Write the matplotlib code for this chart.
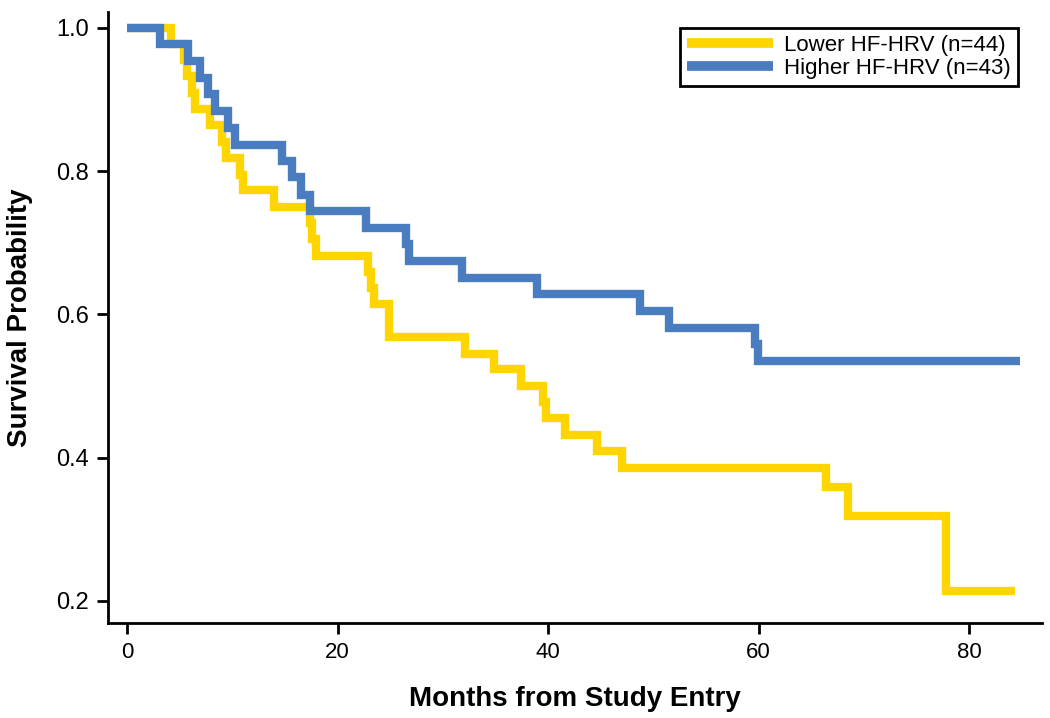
import matplotlib
matplotlib.use("Agg")
import matplotlib.pyplot as plt

#Kaplan-Meier curves
#Lower HF-HRV group (n=44)
lower_t = [0, 4.2, 5.4, 5.7, 6.2, 6.5, 7.9, 9.0, 9.4, 10.7, 11.0, 14.0,
           17.4, 17.6, 18.0, 22.9, 23.2, 23.5, 24.9, 32.1, 34.9, 37.4,
           39.5, 39.8, 41.6, 44.6, 47.0, 66.4, 68.5, 77.8, 84.3]
lower_s = [1.0, 0.977, 0.955, 0.932, 0.909, 0.886, 0.864, 0.841, 0.818, 0.795, 0.773, 0.750,
           0.727, 0.705, 0.682, 0.659, 0.636, 0.614, 0.568, 0.545, 0.523, 0.500,
           0.477, 0.455, 0.432, 0.409, 0.386, 0.359, 0.319, 0.213, 0.213]

#Higher HF-HRV group (n=43)
higher_t = [0, 3.1, 5.8, 6.9, 7.7, 8.4, 9.6, 10.3, 14.7, 15.7, 16.5, 17.4,
            22.7, 26.5, 26.8, 31.8, 38.9, 48.7, 51.5, 59.6, 59.9, 84.8]
higher_s = [1.0, 0.977, 0.953, 0.930, 0.907, 0.884, 0.860, 0.837, 0.814, 0.791, 0.767, 0.744,
            0.721, 0.698, 0.674, 0.651, 0.628, 0.605, 0.581, 0.558, 0.535, 0.535]

labels = ["Lower HF-HRV (n=44)", "Higher HF-HRV (n=43)"]
xticks = [0, 20, 40, 60, 80]
yticks = [0.2, 0.4, 0.6, 0.8, 1.0]

plt.rcParams['font.family'] = ['Liberation Sans', 'DejaVu Sans']

fig = plt.figure(figsize=(10.5, 7.18), dpi=100)
ax = fig.add_axes([108/1050, 1-623/718, 934/1050, 611/718])

ax.step(lower_t, lower_s, where='post', color='#FFD500', lw=6,
        solid_capstyle='butt', solid_joinstyle='miter', label=labels[0])
ax.step(higher_t, higher_s, where='post', color='#4A7CC0', lw=6,
        solid_capstyle='butt', solid_joinstyle='miter', label=labels[1])

ax.set_xlim(-1.8, 86.9)
ax.set_ylim(0.169, 1.022)
ax.set_xticks(xticks)
ax.set_yticks(yticks)
ax.set_yticklabels(["%.1f" % v for v in yticks])

for s in ['top', 'right']:
    ax.spines[s].set_visible(False)
for s in ['left', 'bottom']:
    ax.spines[s].set_linewidth(2)
ax.tick_params(direction='out', length=8, width=2, pad=6)
ax.tick_params(axis='x', labelsize=16)
ax.tick_params(axis='y', labelsize=17)

ax.set_xlabel("Months from Study Entry", fontsize=20, fontweight='bold', labelpad=16)
ax.set_ylabel("Survival Probability", fontsize=20, fontweight='bold', labelpad=16)

leg = ax.legend(loc='upper right', bbox_to_anchor=(0.974, 0.974), borderaxespad=0,
                fontsize=16, handlelength=3.9, handletextpad=0.5, labelspacing=0.12,
                borderpad=0.3, fancybox=False, framealpha=1)
leg.get_frame().set_edgecolor('black')
leg.get_frame().set_linewidth(2)
for h in leg.get_lines():
    h.set_linewidth(7)

fig.savefig("out.png", dpi=100)
